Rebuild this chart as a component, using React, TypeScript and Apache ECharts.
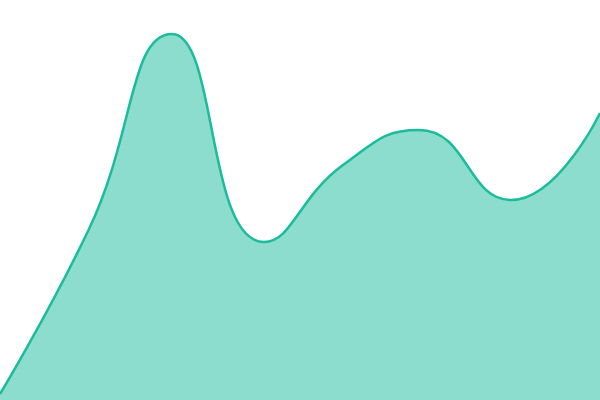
import React, { useEffect, useRef } from 'react';
import * as echarts from 'echarts';

const positions = [0, 89, 172, 264, 343, 419, 511, 600];
const values = [6, 171, 366, 158, 235, 270, 200, 287];

const App = () => {
  const chartRef = useRef<HTMLDivElement>(null);

  useEffect(() => {
    if (!chartRef.current) return;
    document.body.style.margin = '0';

    const chart = echarts.init(chartRef.current, null, { renderer: 'svg' });

    chart.setOption({
      animation: false,
      grid: { left: 0, right: 0, top: 0, bottom: 0 },
      xAxis: {
        type: 'value',
        min: 0,
        max: 600,
        show: false,
      },
      yAxis: {
        type: 'value',
        min: 0,
        max: 400,
        show: false,
      },
      series: [
        {
          type: 'line',
          data: positions.map((x, i) => [x, values[i]]),
          smooth: true,
          symbol: 'none',
          lineStyle: { color: '#1abc9c', width: 2.5 },
          areaStyle: { color: '#1abc9c', opacity: 0.5 },
        },
      ],
    });

    return () => {
      chart.dispose();
    };
  }, []);

  return <div ref={chartRef} style={{ width: 600, height: 400 }} />;
};

export default App;
